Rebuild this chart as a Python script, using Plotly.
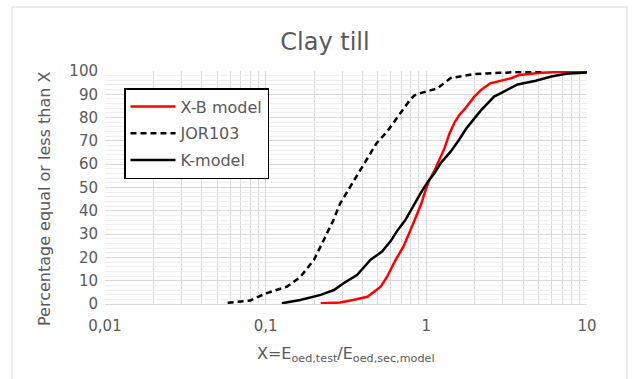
import plotly.graph_objects as go

# Cumulative distributions of X = E_oed,test / E_oed,sec,model (clay till)
xb_x = [0.22, 0.29, 0.35, 0.43, 0.52, 0.57, 0.644, 0.72, 0.80, 0.87, 0.93, 0.98,
        1.04, 1.12, 1.20, 1.30, 1.39, 1.50, 1.60, 1.75, 1.99, 2.2, 2.5, 3.4, 3.8,
        5.2, 7.2, 10.0]
xb_p = [0.3, 0.6, 1.7, 3.1, 7.4, 11.7, 18.9, 24.6, 32, 38, 43, 48,
        53, 57, 62, 67, 73, 78, 81, 84, 89, 92, 94.7, 97, 98.3,
        99.2, 99.7, 100]

jor_x = [0.058, 0.08, 0.10, 0.136, 0.164, 0.20, 0.23, 0.264, 0.29, 0.354, 0.41,
         0.49, 0.57, 0.64, 0.69, 0.78, 0.84, 0.92, 1.17, 1.42, 2.0, 2.9, 5.2]
jor_p = [0.5, 1.5, 4.5, 7.5, 11.5, 19, 27.5, 36, 43, 53, 60,
         69, 74, 79, 82, 87, 89.5, 90.5, 92.5, 97, 98.7, 99.3, 100]

k_x = [0.126, 0.164, 0.22, 0.266, 0.307, 0.37, 0.45, 0.53, 0.60, 0.66, 0.74,
       0.84, 0.92, 1.01, 1.12, 1.23, 1.42, 1.60, 1.78, 2.18, 2.64, 3.1, 3.7,
       4.8, 6.0, 7.4, 10.0]
k_p = [0.3, 1.7, 3.9, 6, 9, 12.4, 19, 22.5, 27, 31.5, 36,
       43, 47.5, 52, 56, 60.5, 65.5, 70.5, 75.5, 83, 89, 91.5, 94.2,
       95.8, 97.6, 98.8, 99.4]

x_ticks = [0.01, 0.1, 1, 10]
x_tick_text = ["0,01", "0,1", "1", "10"]
y_ticks = [0, 10, 20, 30, 40, 50, 60, 70, 80, 90, 100]

W, H = 639, 379
L, R, T, B = 105, 52, 71, 75
PW, PH = W - L - R, H - T - B

TEXT = "#595959"
FONT = "DejaVu Sans"

# minor gridlines at 2..9 within each decade
minor_vals = [round(d * k, 6) for d in x_ticks[:-1] for k in range(2, 10)]

fig = go.Figure()
fig.add_trace(go.Scatter(x=xb_x, y=xb_p, mode="lines", name="X-B model",
                         legendgroup="a",
                         line=dict(color="#ff0000", width=2.5)))
fig.add_trace(go.Scatter(x=jor_x, y=jor_p, mode="lines", name="JOR103",
                         legendgroup="b",
                         line=dict(color="#000000", width=2.5, dash="6px,4px")))
fig.add_trace(go.Scatter(x=k_x, y=k_p, mode="lines", name="K-model",
                         legendgroup="c",
                         line=dict(color="#000000", width=2.5)))


def px_x(p):
    return (p - L) / PW


def px_y(p):
    return (H - B - p) / PH


fig.update_layout(
    width=W, height=H,
    margin=dict(l=L, r=R, t=T, b=B, pad=0),
    paper_bgcolor="white", plot_bgcolor="white",
    font=dict(family=FONT, color=TEXT, size=15),
    title=dict(text="Clay till", x=(325) / W, xanchor="center",
               y=1 - 42 / H, yanchor="middle",
               font=dict(size=24, color=TEXT, family=FONT)),
    showlegend=True,
    legend=dict(x=px_x(124), y=px_y(88), xanchor="left", yanchor="top",
                bgcolor="white", bordercolor="#000000", borderwidth=1.5,
                font=dict(size=16, color=TEXT, family=FONT),
                tracegroupgap=3, itemwidth=45),
    xaxis=dict(type="log", range=[-2, 1], tickvals=x_ticks, ticktext=x_tick_text,
               showgrid=True, gridcolor="#d9d9d9", gridwidth=1,
               minor=dict(tickvals=minor_vals, showgrid=True,
                          gridcolor="#d9d9d9", gridwidth=1, ticks=""),
               zeroline=False, showline=True, linecolor="#d9d9d9",
               ticks="", tickfont=dict(size=15, color=TEXT), ticklabelstandoff=8),
    yaxis=dict(range=[0, 100], tickvals=y_ticks, showgrid=True,
               gridcolor="#d9d9d9", gridwidth=1,
               minor=dict(dtick=2, showgrid=True, gridcolor="#efefef", gridwidth=1),
               zeroline=False, showline=False, ticks="",
               tickfont=dict(size=15, color=TEXT), ticklabelstandoff=6),
    annotations=[
        dict(text="Percentage equal or less than X", xref="paper", yref="paper",
             x=px_x(44), y=px_y(199), textangle=-90, showarrow=False,
             xanchor="center", yanchor="middle",
             font=dict(size=16, color=TEXT, family=FONT)),
        dict(text="X=E<sub>oed,test</sub>/E<sub>oed,sec,model</sub>",
             xref="paper", yref="paper", x=px_x(346), y=px_y(354),
             showarrow=False, xanchor="center", yanchor="middle",
             font=dict(size=16, color=TEXT, family=FONT)),
    ],
    shapes=[
        dict(type="rect", xref="paper", yref="paper",
             x0=px_x(12), x1=px_x(627), y0=px_y(390), y1=px_y(7),
             line=dict(color="#d9d9d9", width=1), fillcolor="rgba(0,0,0,0)",
             layer="below"),
    ],
)

fig.write_html("out.html")
